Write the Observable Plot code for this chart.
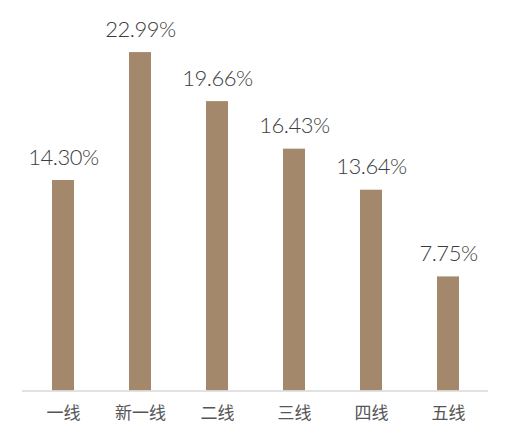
<!DOCTYPE html>
<html>
<head>
<meta charset="utf-8">
<script src="https://cdn.jsdelivr.net/npm/d3@7"></script>
<script src="https://cdn.jsdelivr.net/npm/@observablehq/plot@0.6"></script>
<style>
html,body{margin:0;padding:0;background:#fff;}
</style>
</head>
<body>
<div id="chart"></div>
<script>
const categories = ["一线", "新一线", "二线", "三线", "四线", "五线"];
const values = [14.30, 22.99, 19.66, 16.43, 13.64, 7.75];
const labels = ["14.30%", "22.99%", "19.66%", "16.43%", "13.64%", "7.75%"];

const data = categories.map((c, i) => ({cat: c, value: values[i], label: labels[i]}));

const chart = Plot.plot({
  width: 510,
  height: 439,
  marginLeft: 22,
  marginRight: 22,
  marginTop: 22.5,
  marginBottom: 48.5,
  x: {domain: categories, paddingInner: 0.717, paddingOuter: 0.3585, label: null},
  y: {domain: [0, 25], axis: null},
  style: {background: "#fff"},
  marks: [
    Plot.barY(data, {x: "cat", y: "value", fill: "#A4886B"}),
    Plot.ruleY([0], {stroke: "#d9d9d9", strokeWidth: 1.5}),
    Plot.axisX({tickSize: 0, tickPadding: 15.5, fontSize: 17, fill: "#555", fontFamily: "'Noto Sans CJK SC', sans-serif", label: null}),
    Plot.text(data, {x: "cat", y: "value", text: "label", dy: -16, fill: "#3d3d3d", fontSize: 22, fontFamily: "Lato, sans-serif", lineAnchor: "bottom", className: "vlabel"})
  ]
});
chart.querySelectorAll("g.vlabel text").forEach(t => {
  t.style.letterSpacing = "-0.5px";
  t.style.fontSize = "22px";
  t.style.fontWeight = "300";
  t.style.fontFamily = "Lato, sans-serif";
});
document.getElementById("chart").appendChild(chart);
</script>
</body>
</html>
